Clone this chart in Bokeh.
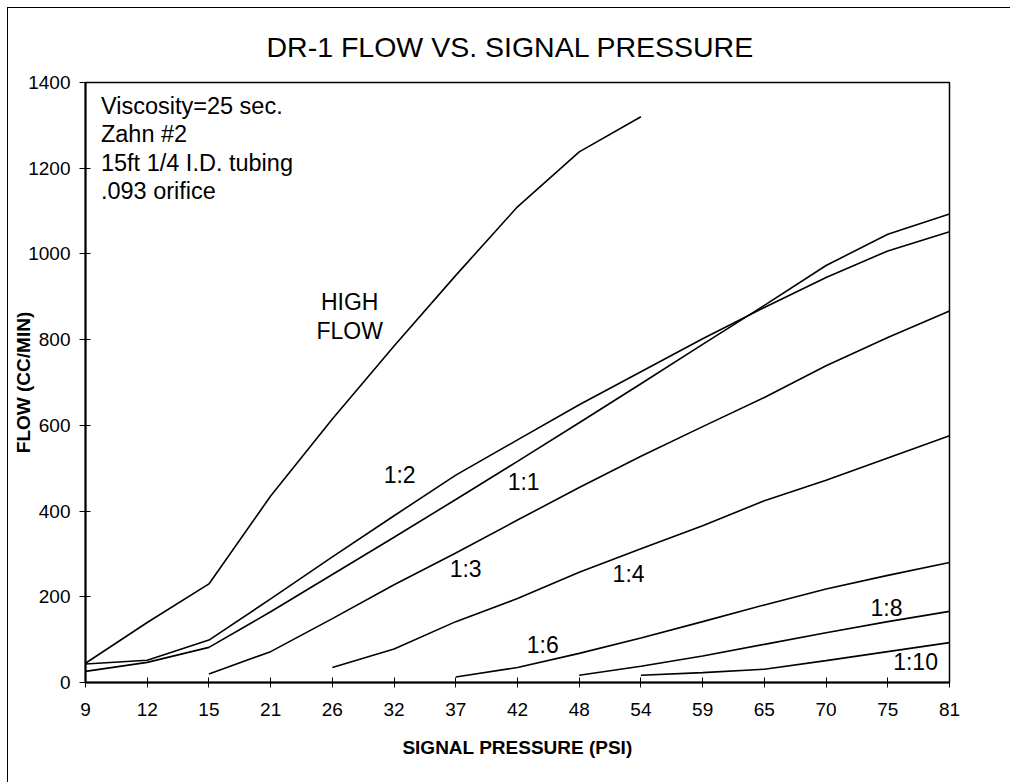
from bokeh.plotting import figure
from bokeh.models import Range1d, FixedTicker, InlineStyleSheet
from bokeh.core.properties import value
from bokeh.embed import file_html
from bokeh.resources import INLINE

# ---------------- data ----------------
pressure_labels = ["9", "12", "15", "21", "26", "32", "37", "42", "48", "54",
                   "59", "65", "70", "75", "81"]
flow_ticks = [0, 200, 400, 600, 800, 1000, 1200, 1400]

high_flow = [45, 140, 230, 435, 615, 785, 950, 1110, 1238, 1320,
             None, None, None, None, None]
ratio_1_2 = [43, 52, 99, 195, 293, 389, 484, 566, 648, 725, 802, 875, 945, 1007, 1052]
ratio_1_1 = [26, 47, 82, 165, 252, 339, 427, 516, 606, 697, 789, 880, 973, 1046, 1093]
ratio_1_3 = [None, None, 20, 72, 149, 228, 302, 379, 455, 528, 597, 665, 739, 805, 867]
ratio_1_4 = [None, None, None, None, 35, 78, 142, 196, 257, 312, 366, 424, 472, 524, 576]
ratio_1_6 = [None, None, None, None, None, None, 13, 35, 68, 104, 142, 181, 218, 250, 280]
ratio_1_8 = [None, None, None, None, None, None, None, None, 17, 38, 62, 89, 116, 142, 166]
ratio_1_10 = [None, None, None, None, None, None, None, None, None, 17, 23, 31, 51, 72, 93]

series = [high_flow, ratio_1_2, ratio_1_1, ratio_1_3, ratio_1_4,
          ratio_1_6, ratio_1_8, ratio_1_10]

curve_labels = ["1:2", "1:1", "1:3", "1:4", "1:6", "1:8", "1:10", "HIGH", "FLOW"]
notes = ["Viscosity=25 sec.", "Zahn #2", "15ft 1/4 I.D. tubing", ".093 orifice"]

# label placement (data coordinates)
label_x = [5.09, 7.10, 6.16, 8.80, 7.41, 12.98, 13.45, 4.28, 4.28]
label_y = [485, 467, 264, 254, 88, 175, 47, 887, 821]
notes_x = [0.25, 0.25, 0.25, 0.25]
notes_y = [1346, 1280, 1213, 1147]

FONT = "Liberation Sans"

p = figure(width=1010, height=782, output_backend="svg", toolbar_location=None,
           x_range=Range1d(0, len(pressure_labels) - 1), y_range=Range1d(0, 1400),
           min_border_left=85, min_border_right=61,
           min_border_top=82, min_border_bottom=100)

# outer chart-area border (only its left and top edges fall inside the window)
p.stylesheets = [InlineStyleSheet(css="""
:host::after {
  content: '';
  position: absolute;
  left: 7px; top: 7px; right: 0; bottom: 0;
  border-left: 1px solid black;
  border-top: 1px solid black;
  pointer-events: none;
  z-index: 10;
}
""")]

for s in series:
    xs = [i for i, v in enumerate(s) if v is not None]
    ys = [v for v in s if v is not None]
    p.line(xs, ys, line_color="black", line_width=1.6)

p.text(x=label_x, y=label_y, text=curve_labels, text_font=value(FONT),
       text_font_size="23px", text_align="center", text_baseline="middle",
       text_color="black")
p.text(x=notes_x, y=notes_y, text=notes, text_font=value(FONT),
       text_font_size="23.5px", text_align="left", text_baseline="middle",
       text_color="black")

# title
p.title.text = "DR-1 FLOW VS. SIGNAL PRESSURE"
p.title.text_font = FONT
p.title.text_font_size = "28.5px"
p.title.text_font_style = "normal"
p.title.text_color = "black"
p.title.align = "left"
p.title.offset = 181
p.title.standoff = 40

# grids / outline
p.xgrid.grid_line_color = None
p.ygrid.grid_line_color = None
p.outline_line_color = "black"
p.outline_line_width = 1.5
p.outline_line_alpha = 1.0

# x axis
xa = p.xaxis[0]
xa.ticker = FixedTicker(ticks=list(range(len(pressure_labels))))
xa.major_label_overrides = {i: lab for i, lab in enumerate(pressure_labels)}
xa.minor_tick_line_color = None
xa.major_tick_in = 5
xa.major_tick_out = 5
xa.major_tick_line_color = "black"
xa.axis_line_color = "black"
xa.axis_line_width = 2
xa.major_label_text_font = FONT
xa.major_label_text_font_size = "19px"
xa.major_label_text_color = "black"
xa.major_label_standoff = 15
xa.axis_label = "SIGNAL PRESSURE (PSI)"
xa.axis_label_text_font = FONT
xa.axis_label_text_font_size = "19px"
xa.axis_label_text_font_style = "bold"
xa.axis_label_text_color = "black"
xa.axis_label_standoff = 18

# y axis
ya = p.yaxis[0]
ya.ticker = FixedTicker(ticks=flow_ticks)
ya.minor_tick_line_color = None
ya.major_tick_in = 5
ya.major_tick_out = 6
ya.major_tick_line_color = "black"
ya.axis_line_color = "black"
ya.axis_line_width = 2
ya.major_label_text_font = FONT
ya.major_label_text_font_size = "19px"
ya.major_label_text_color = "black"
ya.major_label_standoff = 9
ya.axis_label = "FLOW (CC/MIN)"
ya.axis_label_text_font = FONT
ya.axis_label_text_font_size = "19px"
ya.axis_label_text_font_style = "bold"
ya.axis_label_text_color = "black"
ya.axis_label_standoff = -9

open("out.html", "w").write(file_html(p, INLINE))
